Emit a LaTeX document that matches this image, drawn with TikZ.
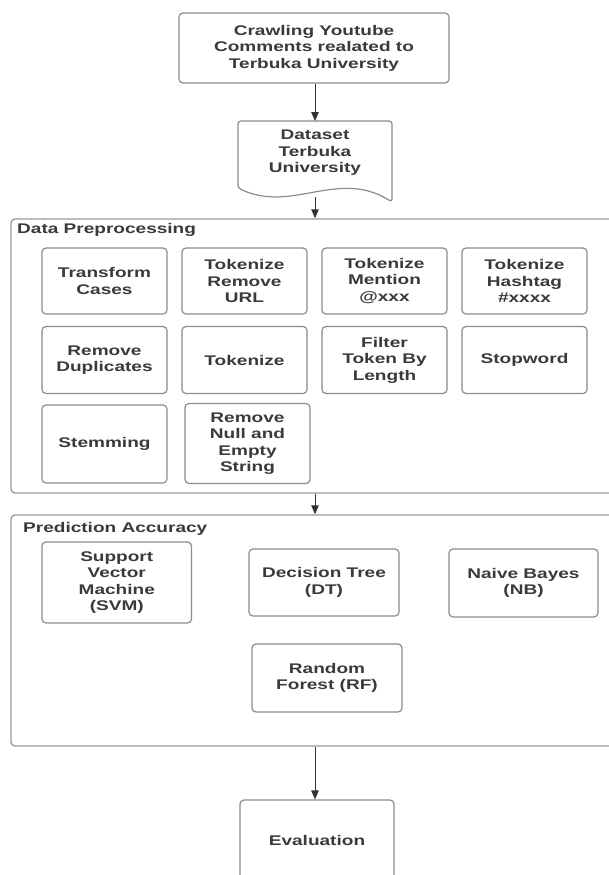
\documentclass[tikz,border=0pt]{standalone}
\usepackage{fontspec}
\newfontfamily\lbl[FakeStretch=1.36]{Liberation Sans}
\usetikzlibrary{arrows.meta}
\definecolor{txt}{HTML}{3A3A3A}
\definecolor{bord}{HTML}{8C8C8C}
\definecolor{grp}{HTML}{9A9A9A}
\definecolor{arr}{HTML}{333333}
\begin{document}
\begin{tikzpicture}[x=1pt,y=-1pt,
  font=\lbl\bfseries\fontsize{14}{16.5}\selectfont,
  pbox/.style={draw=bord, line width=1.2pt, rounded corners=4pt, align=center, text=txt, inner sep=2pt},
  grpbox/.style={draw=grp, line width=1.4pt, rounded corners=4pt, inner sep=0pt},
  ttl/.style={anchor=west, text=txt, inner sep=0pt},
  conn/.style={draw=arr, line width=1pt, -{Triangle[length=9pt,width=7.5pt]}}]
\fill[white] (0,0) rectangle (608,875);
\useasboundingbox (0,0) rectangle (608,875);

% top box
\node[pbox, minimum width=270pt, minimum height=70pt] (crawl) at (314,48) {Crawling Youtube\\Comments realated to\\Terbuka University};

% document shape
\draw[draw=bord, line width=1.2pt, rounded corners=3pt] (238,188) -- (238,121) -- (392,121) -- (392,202)
  .. controls (338,168) and (292,214) .. (238,188) -- cycle;
\node[align=center, text=txt] (doc) at (315,153) {Dataset\\Terbuka\\University};
\coordinate (docTop) at (315,121);
\coordinate (docBot) at (315,197);

% group 1
\node[grpbox, minimum width=610pt, minimum height=274pt] (g1) at (316,356) {};
\node[ttl] (t1) at (17,230) {Data Preprocessing};

\node[pbox, minimum width=125pt, minimum height=66pt] (tc) at (104.5,281) {Transform\\Cases};
\node[pbox, minimum width=125pt, minimum height=66pt] (tru) at (244.5,281) {Tokenize\\Remove\\URL};
\node[pbox, minimum width=125pt, minimum height=66pt] (tm) at (384.5,281) {Tokenize\\Mention\\@xxx};
\node[pbox, minimum width=125pt, minimum height=66pt] (th) at (524.5,281) {Tokenize\\Hashtag\\\#xxxx};

\node[pbox, minimum width=125pt, minimum height=67pt] (rd) at (104.5,360) {Remove\\Duplicates};
\node[pbox, minimum width=125pt, minimum height=67pt] (tk) at (244.5,360) {Tokenize};
\node[pbox, minimum width=125pt, minimum height=67pt] (ft) at (384.5,360) {Filter\\Token By\\Length};
\node[pbox, minimum width=125pt, minimum height=67pt] (sw) at (524.5,360) {Stopword};

\node[pbox, minimum width=125pt, minimum height=78pt] (st) at (104.5,444) {Stemming};
\node[pbox, minimum width=125pt, minimum height=80pt] (rn) at (247.5,443.5) {Remove\\Null and\\Empty\\String};

% group 2
\node[grpbox, minimum width=610pt, minimum height=231pt] (g2) at (316,630.5) {};
\node[ttl] (t2) at (23,529) {Prediction Accuracy};

\node[pbox, minimum width=149.5pt, minimum height=81pt] (svm) at (116.75,582.5) {Support\\Vector\\Machine\\(SVM)};
\node[pbox, minimum width=150pt, minimum height=67pt] (dt) at (324,582.5) {Decision Tree\\(DT)};
\node[pbox, minimum width=149pt, minimum height=68pt] (nb) at (523.5,583) {Naive Bayes\\(NB)};
\node[pbox, minimum width=150pt, minimum height=68pt] (rf) at (327,678) {Random\\Forest (RF)};

% evaluation
\node[pbox, minimum width=154pt, minimum height=80pt] (ev) at (317,840) {Evaluation};

% connectors
\draw[conn] (crawl.south -| docTop) -- (docTop);
\draw[conn] (docBot) -- (docBot |- g1.north);
\draw[conn] (docBot |- g1.south) -- (docBot |- g2.north);
\draw[conn] (docBot |- g2.south) -- (docBot |- ev.north);
\end{tikzpicture}
\end{document}
